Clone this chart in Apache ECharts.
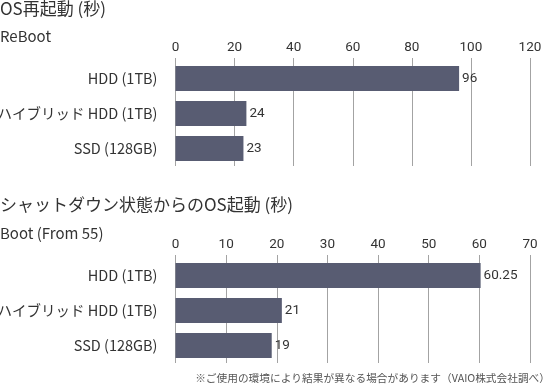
<!DOCTYPE html>
<html><head><meta charset="utf-8">
<script src="https://cdn.jsdelivr.net/npm/echarts@6/dist/echarts.min.js"></script>
<style>html,body{margin:0;padding:0;background:#fff}#c{width:550px;height:387px}</style>
</head><body><div id="c"></div>
<script>
const categories = ['HDD (1TB)', 'ハイブリッド HDD (1TB)', 'SSD (128GB)'];
const rebootValues = [96, 24, 23];
const bootValues = [60.25, 21, 19];
const rebootTicks = { min: 0, max: 120, interval: 20 };
const bootTicks = { min: 0, max: 70, interval: 10 };
const title1 = 'OS再起動 (秒)';
const sub1 = 'ReBoot';
const title2 = 'シャットダウン状態からのOS起動 (秒)';
const sub2 = 'Boot (From 55)';
const footnote = '※ご使用の環境により結果が異なる場合があります（VAIO株式会社調べ）';

const JP = '"Noto Sans CJK JP", "Noto Sans", sans-serif';
const NUM = 'Roboto, "Noto Sans", sans-serif';
const BAR = '#585c72';
const GRID = '#a3a3a3';
const TXT = '#333';

const chart = echarts.init(document.getElementById('c'), null, { renderer: 'canvas' });

function xAxis(gridIndex, t) {
  return {
    type: 'value', gridIndex, position: 'top', min: t.min, max: t.max, interval: t.interval,
    axisLine: { show: false },
    axisTick: { show: true, inside: false, length: 3, lineStyle: { color: GRID, width: 1 } },
    axisLabel: { color: TXT, fontFamily: NUM, fontSize: 13.5, margin: 6 },
    splitLine: { show: true, lineStyle: { color: GRID, width: 1 } }
  };
}
function yAxis(gridIndex) {
  return {
    type: 'category', gridIndex, data: categories, inverse: true,
    axisLine: { show: false }, axisTick: { show: false },
    axisLabel: { color: TXT, fontFamily: JP, fontSize: 14.5, margin: 18 }
  };
}
function series(idx, values) {
  return {
    type: 'bar', xAxisIndex: idx, yAxisIndex: idx, data: values, barWidth: 25,
    itemStyle: { color: BAR }, silent: true,
    label: { show: true, position: 'right', distance: 3, color: TXT, fontFamily: NUM, fontSize: 13.5 }
  };
}

chart.setOption({
  animation: false,
  grid: [
    { left: 175.5, right: 20, top: 61, height: 105, containLabel: false, outerBoundsMode: 'none' },
    { left: 175.5, right: 20, top: 258, height: 105, containLabel: false, outerBoundsMode: 'none' }
  ],
  xAxis: [xAxis(0, rebootTicks), xAxis(1, bootTicks)],
  yAxis: [yAxis(0), yAxis(1)],
  series: [series(0, rebootValues), series(1, bootValues)],
  graphic: [
    { type: 'text', left: 0, top: 0, style: { text: title1, fill: TXT, font: '17px ' + JP } },
    { type: 'text', left: 0, top: 29, style: { text: sub1, fill: TXT, font: '15px ' + JP } },
    { type: 'text', left: 0, top: 196, style: { text: title2, fill: TXT, font: '17px ' + JP } },
    { type: 'text', left: 0, top: 226, style: { text: sub2, fill: TXT, font: '15px ' + JP } },
    { type: 'text', right: 0, top: 373, style: { text: footnote, fill: '#555', font: '10.7px ' + JP } }
  ]
});
</script></body></html>
